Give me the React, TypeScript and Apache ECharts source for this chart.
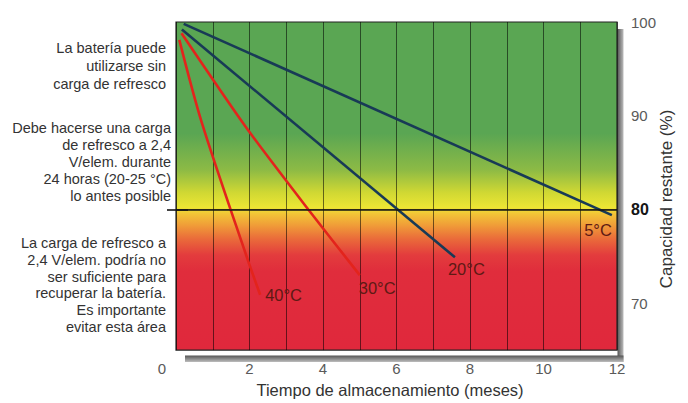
import React, { useEffect, useRef } from 'react';
import * as echarts from 'echarts';

// ---- data ----
const seriesNames = ['5°C', '20°C', '30°C', '40°C'];
const months5 = [0.21, 11.86];
const capacity5 = [99.8, 79.4];
const months20 = [0.16, 7.59];
const capacity20 = [99.2, 74.9];
const months30 = [0.15, 1.9, 3.6, 5.0];
const capacity30 = [98.8, 88.8, 80.0, 73.0];
const months40 = [0.09, 0.7, 1.92, 2.29];
const capacity40 = [98.1, 89.3, 75.0, 70.9];
const xTickLabels = [0, 2, 4, 6, 8, 10, 12];
const yTickLabels = [70, 80, 90, 100];
const thresholdValue = 80;
const xAxisTitle = 'Tiempo de almacenamiento (meses)';
const yAxisTitle = 'Capacidad restante (%)';
const noteBlock1 = ['La batería puede', 'utilizarse sin', 'carga de refresco'];
const noteBlock2 = [
  'Debe hacerse una carga',
  'de refresco a 2,4',
  'V/elem. durante',
  '24 horas (20-25 °C)',
  'lo antes posible',
];
const noteBlock3 = [
  'La carga de refresco a',
  '2,4 V/elem. podría no',
  'ser suficiente para',
  'recuperar la batería.',
  'Es importante',
  'evitar esta área',
];

const FONT = '"Liberation Sans", Arial, Helvetica, sans-serif';
const NAVY = '#183a56';
const RED = '#e3241c';
const LABEL_COLOR = '#5e1a14';

const toPairs = (xs: number[], ys: number[]) => xs.map((x, i) => [x, ys[i]]);

export default function App() {
  const ref = useRef<HTMLDivElement>(null);

  useEffect(() => {
    if (!ref.current) return;
    const chart = echarts.init(ref.current, null, { renderer: 'svg' });

    const bg = new echarts.graphic.LinearGradient(0, 0, 0, 1, [
      { offset: 0, color: '#5aa653' },
      { offset: 0.34, color: '#5aa653' },
      { offset: 0.45, color: '#8cba45' },
      { offset: 0.52, color: '#d0d833' },
      { offset: 0.565, color: '#ece634' },
      { offset: 0.585, color: '#f2c437' },
      { offset: 0.62, color: '#f09c38' },
      { offset: 0.66, color: '#ea6c3a' },
      { offset: 0.71, color: '#e33c3d' },
      { offset: 0.76, color: '#e02d3c' },
      { offset: 1, color: '#e0283c' },
    ]);

    const splitStyle = { color: 'rgba(0,0,0,0.55)', width: 1 };

    const lineSets = [
      { name: seriesNames[0], data: toPairs(months5, capacity5), color: NAVY, smooth: false,
        endLabel: { align: 'right', verticalAlign: 'top', distance: 0, padding: [6, 0, 0, 0] } },
      { name: seriesNames[1], data: toPairs(months20, capacity20), color: NAVY, smooth: false,
        endLabel: { align: 'left', verticalAlign: 'top', distance: -7, padding: [3, 0, 0, 0] } },
      { name: seriesNames[2], data: toPairs(months30, capacity30), color: RED, smooth: 0.25,
        endLabel: { align: 'left', verticalAlign: 'top', distance: -1, padding: [4, 0, 0, 0] } },
      { name: seriesNames[3], data: toPairs(months40, capacity40), color: RED, smooth: 0.3,
        endLabel: { align: 'left', verticalAlign: 'middle', distance: 5, padding: [4, 0, 0, 0] } },
    ];

    const series: any[] = lineSets.map((s, idx) => ({
      type: 'line',
      name: s.name,
      data: s.data,
      yAxisIndex: 0,
      symbol: 'none',
      smooth: s.smooth,
      lineStyle: { color: s.color, width: 2.6 },
      z: 3,
      endLabel: {
        show: true,
        formatter: s.name,
        color: LABEL_COLOR,
        fontSize: 16.5,
        fontFamily: FONT,
        ...s.endLabel,
      },
      markLine: idx === 0 ? {
        silent: true,
        symbol: 'none',
        label: { show: false },
        lineStyle: { color: '#151515', width: 1.6, type: 'solid' },
        data: [{ yAxis: thresholdValue }],
        z: 4,
      } : undefined,
    }));

    const noteText = (lines: string[], x: number, y: number, lh: number) => ({
      type: 'text',
      x,
      y,
      silent: true,
      style: {
        text: lines.join('\n'),
        align: 'right',
        verticalAlign: 'top',
        font: `14.5px ${FONT}`,
        lineHeight: lh,
        fill: '#333333',
      },
    });

    const shadowH = new echarts.graphic.LinearGradient(0, 0, 1, 0, [
      { offset: 0, color: '#555555' },
      { offset: 1, color: '#bdbdbd' },
    ]);
    const shadowV = new echarts.graphic.LinearGradient(0, 0, 0, 1, [
      { offset: 0, color: '#555555' },
      { offset: 1, color: '#bdbdbd' },
    ]);

    chart.setOption({
      animation: false,
      backgroundColor: '#ffffff',
      grid: {
        show: true,
        left: 176,
        top: 22,
        width: 441,
        height: 333,
        backgroundColor: bg,
        borderColor: '#222222',
        borderWidth: 1.2,
      },
      xAxis: {
        type: 'value',
        min: 0,
        max: 12,
        interval: 1,
        axisLine: { show: false },
        axisTick: { show: false },
        splitLine: { show: true, lineStyle: splitStyle },
        axisLabel: {
          color: '#5a5a5a',
          fontSize: 15,
          fontFamily: FONT,
          margin: 11,
          formatter: (v: number) =>
            xTickLabels.includes(v) ? (v === 0 ? '{z|0}' : String(v)) : '',
          rich: {
            z: { color: '#5a5a5a', fontSize: 15, fontFamily: FONT, padding: [0, 28, 0, 0] },
          },
        },
        name: xAxisTitle,
        nameLocation: 'middle',
        nameGap: 28,
        nameTextStyle: {
          color: '#333333',
          fontSize: 16.5,
          fontFamily: FONT,
          padding: [0, 13, 0, 0],
        },
      },
      yAxis: [
        {
          type: 'value',
          position: 'right',
          min: 65,
          max: 100,
          interval: 5,
          axisLine: { show: false },
          axisTick: {
            show: true,
            customValues: [thresholdValue],
            length: 12,
            lineStyle: { color: '#151515', width: 1.6 },
          },
          splitLine: { show: true, lineStyle: splitStyle },
          axisLabel: {
            color: '#5a5a5a',
            fontSize: 15,
            fontFamily: FONT,
            margin: 14,
            formatter: (v: number) =>
              yTickLabels.includes(v) ? (v === thresholdValue ? `{b|${v}}` : String(v)) : '',
            rich: {
              b: { color: '#151515', fontWeight: 'bold', fontSize: 16, fontFamily: FONT },
            },
          },
        },
        {
          type: 'value',
          position: 'left',
          min: 65,
          max: 100,
          interval: 5,
          axisLine: { show: false },
          axisLabel: { show: false },
          splitLine: { show: false },
          axisTick: {
            show: true,
            customValues: [thresholdValue],
            length: 9,
            lineStyle: { color: '#151515', width: 1.6 },
          },
        },
      ],
      series,
      graphic: [
        {
          type: 'rect',
          silent: true,
          z: -1,
          shape: { x: 617.5, y: 29, width: 6, height: 333 },
          style: { fill: shadowH },
        },
        {
          type: 'rect',
          silent: true,
          z: -1,
          shape: { x: 185, y: 355.5, width: 438.5, height: 6.5 },
          style: { fill: shadowV },
        },
        {
          type: 'text',
          silent: true,
          x: 666,
          y: 199,
          rotation: Math.PI / 2,
          style: {
            text: yAxisTitle,
            align: 'center',
            verticalAlign: 'middle',
            font: `17px ${FONT}`,
            fill: '#333333',
          },
        },
        noteText(noteBlock1, 166, 38.5, 18),
        noteText(noteBlock2, 171, 119.5, 17),
        noteText(noteBlock3, 166, 234.5, 16.8),
      ],
    });

    return () => chart.dispose();
  }, []);

  return (
    <div
      ref={ref}
      style={{ position: 'absolute', left: 0, top: 0, width: 688, height: 403, background: '#fff' }}
    />
  );
}
